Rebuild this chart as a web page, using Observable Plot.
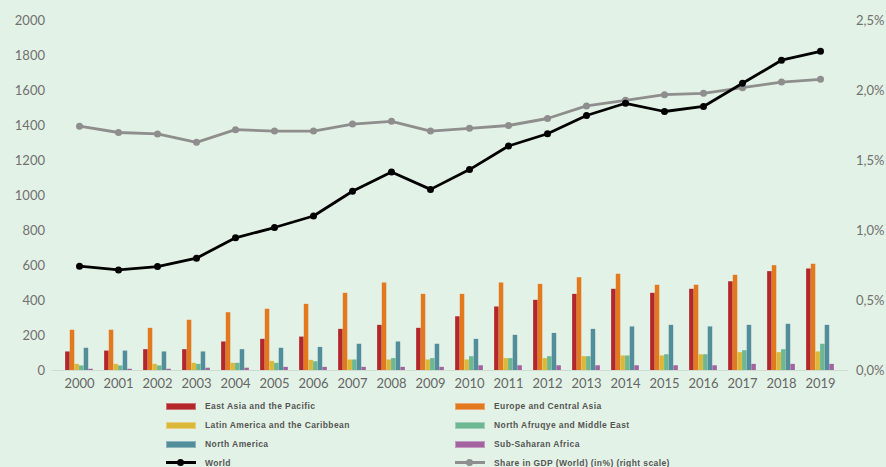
<!DOCTYPE html>
<html>
<head>
<meta charset="utf-8">
<script src="https://cdn.jsdelivr.net/npm/d3@7"></script>
<script src="https://cdn.jsdelivr.net/npm/@observablehq/plot@0.6"></script>
<style>
  html, body { margin: 0; padding: 0; background: #e3f2e6; }
  #wrap { width: 886px; height: 467px; position: relative; overflow: hidden; }
  #legend { position: relative; height: 72px; font-family: "Liberation Sans", Arial, sans-serif; font-size: 8.5px; font-weight: bold; color: #555; letter-spacing: 0.4px; }
  .item { position: absolute; display: flex; align-items: center; height: 19px; }
  .sw { width: 30px; height: 7px; margin-right: 9px; box-sizing: border-box; }
  .ln { width: 30px; height: 9px; margin-right: 9px; position: relative; }
  .ln .bar { position: absolute; left: 0; right: 0; top: 3px; height: 3px; }
  .ln .pt { position: absolute; left: 11px; top: 1px; width: 7px; height: 7px; border-radius: 50%; }
</style>
</head>
<body>
<div id="wrap">
  <div id="chart"></div>
  <div id="legend"></div>
</div>
<script>
const years = ["2000","2001","2002","2003","2004","2005","2006","2007","2008","2009","2010","2011","2012","2013","2014","2015","2016","2017","2018","2019"];
const seriesNames = ["East Asia and the Pacific","Europe and Central Asia","Latin America and the Caribbean","North Afruqye and Middle East","North America","Sub-Saharan Africa"];
const seriesColors = ["#b3272a","#e2791f","#dbb83a","#6db893","#528d9b","#a2639f"];
const eastAsia = [106,111,119,119,163,178,191,235,258,241,307,363,401,435,464,441,464,507,565,580];
const europe   = [230,230,241,287,330,350,378,441,500,435,435,500,492,530,550,487,487,544,599,607];
const latam    = [35,35,35,41,41,52,58,60,60,60,60,68,68,79,83,83,90,102,102,106];
const mena     = [26,26,26,35,41,41,50,60,68,68,79,68,79,79,83,90,90,113,119,150];
const northAm  = [127,111,106,106,119,127,132,150,163,150,178,201,212,235,249,258,249,258,264,258];
const ssa      = [7,7,7,13,13,18,18,18,18,18,27,27,27,27,27,27,27,35,35,35];
const world    = [596,575,594,642,758,817,883,1024,1134,1035,1148,1283,1353,1457,1527,1480,1509,1641,1773,1824];
const share    = [1.745,1.70,1.69,1.63,1.72,1.71,1.71,1.76,1.78,1.71,1.73,1.75,1.80,1.89,1.93,1.97,1.98,2.02,2.06,2.08];
const leftTicks = [0,200,400,600,800,1000,1200,1400,1600,1800,2000];
const rightTicks = [0,0.5,1,1.5,2,2.5];
const worldLabel = "World";
const shareLabel = "Share in GDP (World) (in%) (right scale)";

const W = 886, H = 395, ML = 51.5, MR = 38.5, PAD = 0.29;
const leftMax = 2000, rightMax = 2.5, k = leftMax / rightMax;
const step = (W - ML - MR) / (years.length - PAD + 2 * PAD);
const bw = step * (1 - PAD);
const n = seriesNames.length;
const w = bw / n;

const seriesValues = [eastAsia, europe, latam, mena, northAm, ssa];
const barMarks = seriesValues.map((vals, i) =>
  Plot.barY(years.map((y, j) => ({year: y, value: vals[j]})), {
    x: "year", y: "value", fill: seriesColors[i],
    insetLeft: i * w + 0.15, insetRight: (n - 1 - i) * w + 0.15
  })
);
const lineData = years.map((y, j) => ({year: y, world: world[j], share: share[j] * k}));

const chart = Plot.plot({
  width: W, height: H,
  marginLeft: ML, marginRight: MR, marginTop: 20, marginBottom: 25,
  style: {background: "transparent", fontFamily: "Lato, 'DejaVu Sans', sans-serif", fontSize: "13px", color: "#707070"},
  x: {type: "band", domain: years, padding: PAD, label: null},
  y: {domain: [0, leftMax], label: null},
  marks: [
    Plot.ruleY([0], {stroke: "#cddccf", strokeWidth: 1}),
    ...barMarks,
    Plot.line(lineData, {x: "year", y: "share", stroke: "#8e8e8e", strokeWidth: 2.8}),
    Plot.dot(lineData, {x: "year", y: "share", fill: "#8e8e8e", r: 3.5}),
    Plot.line(lineData, {x: "year", y: "world", stroke: "#000", strokeWidth: 2.8}),
    Plot.dot(lineData, {x: "year", y: "world", fill: "#000", r: 3.5}),
    Plot.axisX({tickSize: 0, tickPadding: 8, label: null, fill: "#666"}),
    Plot.axisY({anchor: "left", ticks: leftTicks, tickFormat: d => String(d), tickSize: 0, tickPadding: 7, label: null, fill: "#707070"}),
    Plot.axisY({anchor: "right", ticks: rightTicks.map(t => t * k), tickFormat: d => (d / k).toFixed(1).replace(".", ",") + "%", tickSize: 0, tickPadding: 8, label: null, fill: "#707070"})
  ]
});
document.getElementById("chart").appendChild(chart);

const legend = document.getElementById("legend");
const cols = [166, 455];
const rowTop = [1.5, 20.5, 39.5, 58];
const items = seriesNames.map((s, i) => ({label: s, color: seriesColors[i], type: "bar"}))
  .concat([{label: worldLabel, color: "#000", type: "line"}, {label: shareLabel, color: "#8e8e8e", type: "line"}]);
items.forEach((it, i) => {
  const d = document.createElement("div");
  d.className = "item";
  d.style.left = cols[i % 2] + "px";
  d.style.top = rowTop[Math.floor(i / 2)] + "px";
  if (it.type === "bar") {
    const s = document.createElement("div");
    s.className = "sw";
    s.style.background = it.color;
    s.style.border = "1px solid rgba(255,255,255,0.35)";
    d.appendChild(s);
  } else {
    const s = document.createElement("div");
    s.className = "ln";
    const b = document.createElement("div"); b.className = "bar"; b.style.background = it.color;
    const p = document.createElement("div"); p.className = "pt"; p.style.background = it.color;
    s.appendChild(b); s.appendChild(p);
    d.appendChild(s);
  }
  const t = document.createElement("span");
  t.textContent = it.label;
  d.appendChild(t);
  legend.appendChild(d);
});
</script>
</body>
</html>
